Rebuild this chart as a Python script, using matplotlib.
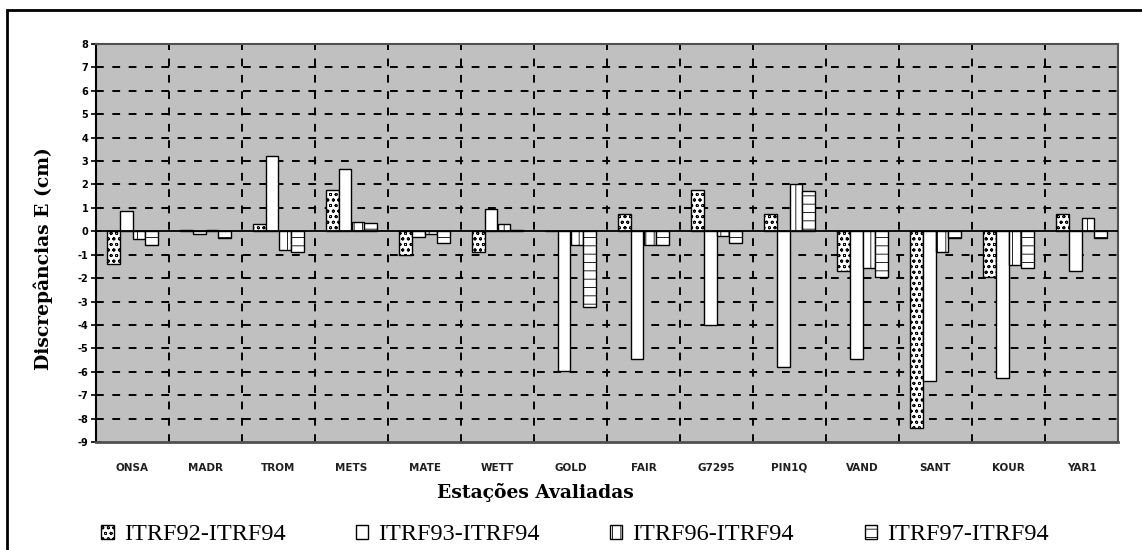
import matplotlib
matplotlib.use("Agg")
import matplotlib.pyplot as plt
import numpy as np
from matplotlib.patches import Rectangle, Patch

stations = ["ONSA", "MADR", "TROM", "METS", "MATE", "WETT", "GOLD", "FAIR",
            "G7295", "PIN1Q", "VAND", "SANT", "KOUR", "YAR1"]
itrf92 = [-1.4, 0.05, 0.3, 1.75, -1.0, -0.9, 0.0, 0.75, 1.75, 0.75, -1.7, -8.4, -1.95, 0.75]
itrf93 = [0.85, -0.1, 3.2, 2.65, -0.25, 0.95, -5.95, -5.45, -4.0, -5.8, -5.45, -6.4, -6.25, -1.7]
itrf96 = [-0.35, 0.05, -0.8, 0.4, -0.12, 0.3, -0.6, -0.6, -0.22, 2.0, -1.55, -0.9, -1.45, 0.58]
itrf97 = [-0.6, -0.3, -0.9, 0.35, -0.5, 0.05, -3.25, -0.6, -0.5, 1.7, -1.95, -0.28, -1.55, -0.28]
series_labels = ["ITRF92-ITRF94", "ITRF93-ITRF94", "ITRF96-ITRF94", "ITRF97-ITRF94"]
yticks = list(range(-9, 9))

plt.rcParams['hatch.linewidth'] = 0.6

fig = plt.figure(figsize=(11.42, 5.5), dpi=100)
ax = fig.add_axes([96/1142, 108/550, (1118-96)/1142, (442-44)/550])
ax.set_facecolor("#C0C0C0")

x = np.arange(len(stations))
w = 0.178
hatches = ["ooo", "", "||", "--"]
series = [itrf92, itrf93, itrf96, itrf97]
for i, (vals, h) in enumerate(zip(series, hatches)):
    ax.bar(x + (i - 1.5) * w, vals, width=w, color="white", edgecolor="black",
           linewidth=1.0, hatch=h, zorder=3)

ax.set_xlim(-0.5, len(stations) - 0.5)
ax.set_ylim(-9, 8)

# grid
dash = (0, (4.0, 4.4))
for yv in range(-8, 8):
    if yv == 0:
        continue
    ax.axhline(yv, color="black", lw=1.4, ls=dash, zorder=1)
for xv in np.arange(0.5, len(stations) - 0.5, 1.0):
    ax.axvline(xv, color="black", lw=1.4, ls=dash, zorder=1)
ax.axhline(0, color="black", lw=1.3, zorder=4)

ax.set_yticks(yticks)
ax.set_yticklabels([str(v) for v in yticks], fontsize=7, fontweight="bold")
ax.tick_params(axis="y", direction="inout", length=7, width=1.2, pad=2)
ax.set_xticks(x)
ax.set_xticklabels(stations, fontsize=7.5, fontweight="bold", color="#202020")
ax.tick_params(axis="x", length=0, pad=15)

for s in ["top", "right"]:
    ax.spines[s].set_color("#505050")
    ax.spines[s].set_linewidth(1.5)
ax.spines["left"].set_color("black")
ax.spines["left"].set_linewidth(1.5)
ax.spines["bottom"].set_color("#505050")
ax.spines["bottom"].set_linewidth(2)

ax.set_ylabel("Discrepâncias E (cm)", fontsize=13.5, fontweight="bold",
              family="DejaVu Serif")
ax.yaxis.set_label_coords(-0.042, (442 - 259) / (442 - 44))
ax.set_xlabel("Estações Avaliadas", fontsize=13.5, fontweight="bold",
              family="DejaVu Serif")
ax.xaxis.set_label_coords((535 - 96) / 1022, -(483 - 442) / (442 - 44))

handles = [Patch(facecolor="white", edgecolor="black", hatch=h, lw=1.0) for h in hatches]
fig.legend(handles, series_labels, loc="center", bbox_to_anchor=(0.5035, 15/550),
           ncol=4, frameon=False, prop={"family": "Liberation Serif", "size": 17.5},
           handlelength=0.5, handleheight=0.55, handletextpad=0.42, columnspacing=2.9,
           borderpad=0, borderaxespad=0)

fig.add_artist(Rectangle((7/1142, -0.1), 1.2, (540/550) + 0.1, transform=fig.transFigure,
                         fill=False, edgecolor="black", lw=2))

fig.savefig("out.png", dpi=100)
